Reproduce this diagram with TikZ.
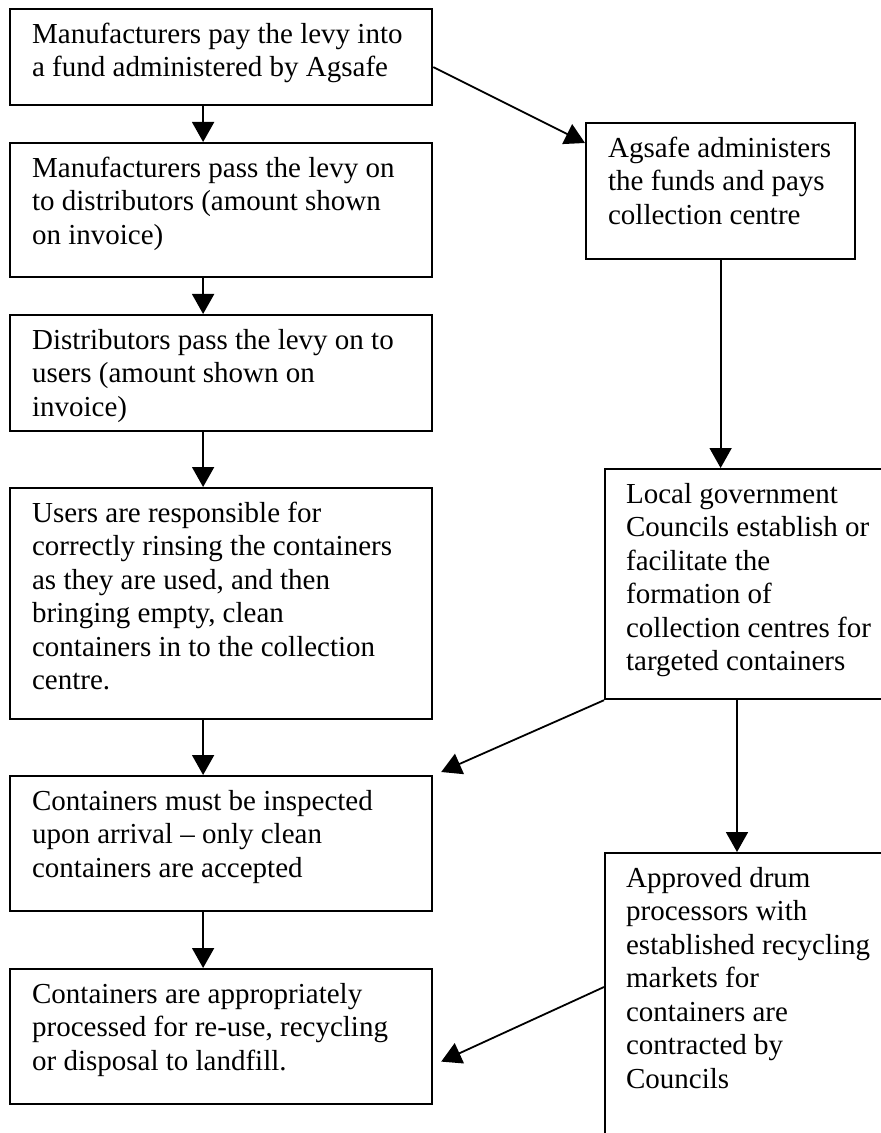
\documentclass[tikz,border=0pt]{standalone}
\usepackage{fontspec}
\setmainfont{Liberation Serif}
\usetikzlibrary{arrows.meta}
\newcommand{\boxtext}[3]{\parbox[c][#1][t]{#2}{\raggedright\rule{0pt}{17pt}#3}}

\begin{document}
\begin{tikzpicture}[x=0.5pt, y=-0.5pt,
  stage/.style={draw, line width=1.1pt, anchor=north west, inner xsep=11pt, inner ysep=0pt, font=\fontsize{14.5pt}{16.75pt}\selectfont},
  flow/.style={line width=0.9pt, -{Triangle[length=10pt, width=11pt]}}]
\useasboundingbox (0,0) rectangle (881,1133);
\clip (0,0) rectangle (881,1133);
\node[stage] (levy) at (9,8) {\boxtext{48pt}{189pt}{Manufacturers pay the levy into\\ a fund administered by Agsafe}};
\node[stage] (distrib) at (9,142) {\boxtext{67pt}{189pt}{Manufacturers pass the levy on\\ to distributors (amount shown\\ on invoice)}};
\node[stage] (users) at (9,314) {\boxtext{58pt}{189pt}{Distributors pass the levy on to\\ users (amount shown on\\ invoice)}};
\node[stage] (rinse) at (9,487) {\boxtext{115.5pt}{189pt}{Users are responsible for\\ correctly rinsing the containers\\ as they are used, and then\\ bringing empty, clean\\ containers in to the collection\\ centre.}};
\node[stage] (inspect) at (9,775) {\boxtext{67.5pt}{189pt}{Containers must be inspected\\ upon arrival -- only clean\\ containers are accepted}};
\node[stage] (process) at (9,968) {\boxtext{67.5pt}{189pt}{Containers are appropriately\\ processed for re-use, recycling\\ or disposal to landfill.}};
\node[stage] (agsafe) at (585,122) {\boxtext{68pt}{112.5pt}{Agsafe administers\\ the funds and pays\\ collection centre}};
\node[stage, inner xsep=10.5pt] (council) at (604,468) {\boxtext{115pt}{127pt}{Local government\\ Councils establish or\\ facilitate the\\ formation of\\ collection centres for\\ targeted containers}};
\node[stage, inner xsep=10.5pt] (drum) at (604,852) {\boxtext{149pt}{127pt}{Approved drum\\ processors with\\ established recycling\\ markets for\\ containers are\\ contracted by\\ Councils}};

\draw[flow] ([xshift=-9pt]levy.south) -- ([xshift=-9pt]distrib.north);
\draw[flow] ([xshift=-9pt]distrib.south) -- ([xshift=-9pt]users.north);
\draw[flow] ([xshift=-9pt]users.south) -- ([xshift=-9pt]rinse.north);
\draw[flow] ([xshift=-9pt]rinse.south) -- ([xshift=-9pt]inspect.north);
\draw[flow] ([xshift=-9pt]inspect.south) -- ([xshift=-9pt]process.north);
\draw[flow] ([yshift=-5pt]levy.east) -- ([yshift=-10.5pt]agsafe.north west);
\draw[flow] (agsafe.south) -- (agsafe.south |- council.north);
\draw[flow] (council.south west) -- ([shift={(8,-3)}]inspect.north east);
\draw[flow] ([xshift=66.5pt]council.south west) -- ([xshift=66.5pt]drum.north west);
\draw[flow] ([yshift=-67.5pt]drum.north west) -- ([shift={(8,25)}]process.east);
\end{tikzpicture}
\end{document}
